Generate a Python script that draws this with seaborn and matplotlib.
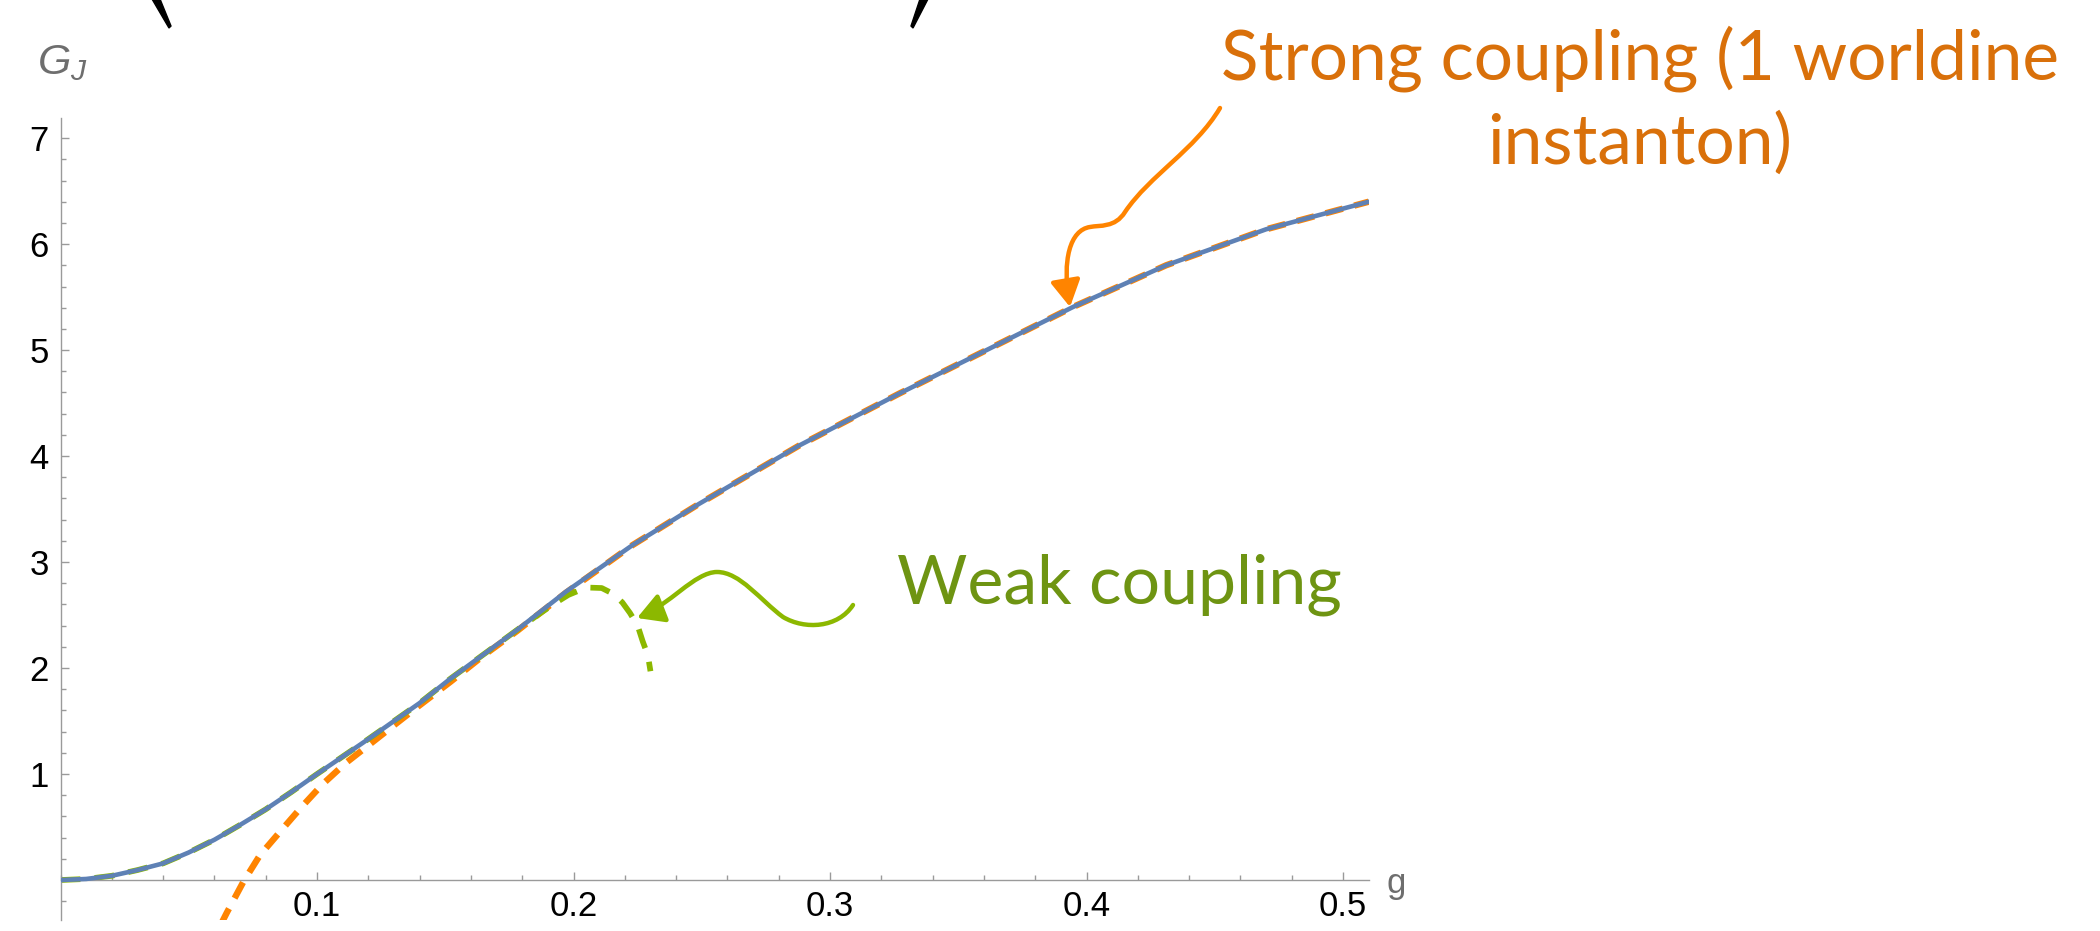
import matplotlib
matplotlib.use("Agg")
import matplotlib.pyplot as plt
import matplotlib.transforms as mtransforms
from matplotlib.path import Path
from matplotlib.patches import FancyArrowPatch, Polygon
from matplotlib.ticker import FixedLocator, MultipleLocator
import pandas as pd
import seaborn as sns

# exact G_J (blue, solid)
g_exact = [0, 0.01, 0.02, 0.03, 0.04, 0.05, 0.06, 0.07, 0.08, 0.09, 0.10, 0.12, 0.14,
           0.152, 0.165, 0.178, 0.197, 0.223, 0.249, 0.288, 0.327, 0.361, 0.395, 0.431, 0.470, 0.510]
G_exact = [0, 0.01, 0.04, 0.094, 0.157, 0.26, 0.38, 0.52, 0.667, 0.83, 1.0, 1.33, 1.67,
           1.90, 2.13, 2.36, 2.72, 3.16, 3.55, 4.10, 4.59, 5.0, 5.41, 5.80, 6.14, 6.40]

# strong coupling, one worldline instanton (orange, dashed)
g_strong = [0.0625, 0.0648, 0.0713, 0.0778, 0.0856, 0.094, 0.102, 0.111, 0.120, 0.130, 0.139,
            0.152, 0.165, 0.178, 0.197, 0.223, 0.249, 0.288, 0.327, 0.361, 0.395, 0.431, 0.470, 0.510]
G_strong = [-0.42, -0.31, -0.016, 0.236, 0.456, 0.69, 0.90, 1.10, 1.27, 1.46, 1.63,
            1.87, 2.12, 2.35, 2.71, 3.16, 3.55, 4.10, 4.59, 5.0, 5.41, 5.80, 6.14, 6.40]

# weak coupling expansion (green, dashed)
g_weak = [0, 0.01, 0.02, 0.03, 0.04, 0.05, 0.06, 0.07, 0.08, 0.09, 0.10, 0.12, 0.14, 0.152,
          0.165, 0.178, 0.186, 0.192, 0.198, 0.205, 0.211, 0.2155, 0.219, 0.222, 0.225, 0.227,
          0.229, 0.230]
G_weak = [0, 0.01, 0.04, 0.094, 0.157, 0.26, 0.38, 0.52, 0.667, 0.83, 1.0, 1.33, 1.67, 1.90,
          2.13, 2.36, 2.50, 2.60, 2.69, 2.76, 2.755, 2.70, 2.62, 2.52, 2.40, 2.25,
          2.12, 1.97]

x_ticks = [0.1, 0.2, 0.3, 0.4, 0.5]
x_labels = ["0.1", "0.2", "0.3", "0.4", "0.5"]
y_ticks = [1, 2, 3, 4, 5, 6, 7]
y_labels = ["1", "2", "3", "4", "5", "6", "7"]

BLUE = "#5E81B5"
ORANGE = "#FF8400"
GREEN = "#8CB800"
AXIS = "#9A9A9A"

sns.set_theme(style="ticks")
plt.rcParams["font.family"] = ["Liberation Sans", "DejaVu Sans"]
plt.rcParams["mathtext.fontset"] = "custom"
plt.rcParams["mathtext.it"] = "Liberation Sans:italic"
plt.rcParams["mathtext.rm"] = "Liberation Sans"

W, H = 2100, 931
fig = plt.figure(figsize=(W / 100, H / 100), dpi=100)
ax = fig.add_axes([60.5 / W, (H - 920.3) / H, 1308.2 / W, 802.3 / H])
# pixel coords, origin top-left, for the slide decorations
px = mtransforms.Affine2D().scale(1, -1).translate(0, H)

sns.lineplot(data=pd.DataFrame({"g": g_strong, "G": G_strong}), x="g", y="G",
             color=ORANGE, lw=4.6, ax=ax, estimator=None, sort=False, zorder=2)
ax.lines[-1].set_dashes([2.8, 1.85])
sns.lineplot(data=pd.DataFrame({"g": g_weak, "G": G_weak}), x="g", y="G",
             color=GREEN, lw=4.1, ax=ax, estimator=None, sort=False, zorder=2.5)
ax.lines[-1].set_dashes([3.5, 2.5])
sns.lineplot(data=pd.DataFrame({"g": g_exact, "G": G_exact}), x="g", y="G",
             color=BLUE, lw=3.3, ax=ax, estimator=None, sort=False, zorder=3)

ax.set_xlim(0, 0.51)
ax.set_ylim(-0.38, 7.19)
ax.set_xlabel("")
ax.set_ylabel("")
sns.despine(ax=ax)
ax.spines["bottom"].set_position(("data", 0))
for s in ["left", "bottom"]:
    ax.spines[s].set_color(AXIS)
    ax.spines[s].set_linewidth(1.0)

ax.xaxis.set_major_locator(FixedLocator(x_ticks))
ax.set_xticklabels(x_labels)
ax.xaxis.set_minor_locator(MultipleLocator(0.02))
ax.yaxis.set_major_locator(FixedLocator(y_ticks))
ax.set_yticklabels(y_labels)
ax.yaxis.set_minor_locator(MultipleLocator(0.2))
ax.tick_params(which="both", direction="in", color=AXIS, labelcolor="black",
               width=1.0, labelsize=25)
ax.tick_params(which="major", length=6)
ax.tick_params(which="minor", length=3.6)
ax.tick_params(axis="x", which="both", pad=7)
ax.tick_params(axis="y", which="both", pad=8.5)

# axis labels, Mathematica style
fig.text(37, 74, r"$G_J$", transform=px, fontsize=31, color="#6E6E6E", va="baseline")
fig.text(1387, 893, "g", transform=px, fontsize=25, color="#6E6E6E", va="baseline")

# bits of the big brackets cut off at the top of the slide
fig.add_artist(Polygon([(152, -1), (160, -1), (171, 26), (169, 28)], closed=True,
                       color="black", transform=px))
fig.add_artist(Polygon([(920, -1), (928, -1), (913, 28), (911, 26)], closed=True,
                       color="black", transform=px))

# annotations
txt_font = ["Lato", "DejaVu Sans"]
fig.text(1640, 80, "Strong coupling (1 worldine", transform=px, ha="center",
         va="baseline", fontsize=50, color="#D9700A", family=txt_font)
fig.text(1640, 164, "instanton)", transform=px, ha="center", va="baseline",
         fontsize=50, color="#D9700A", family=txt_font)
fig.text(897, 604, "Weak coupling", transform=px, ha="left", va="baseline",
         fontsize=49, color="#6E9412", family=txt_font)

C4 = Path.CURVE4
orange_path = Path([(1220, 108), (1195, 150), (1150, 175), (1125, 212),
                    (1115, 228), (1100, 225), (1090, 227),
                    (1070, 230), (1062, 260), (1070, 307)],
                   [Path.MOVETO, C4, C4, C4, C4, C4, C4, C4, C4, C4])
fig.add_artist(FancyArrowPatch(path=orange_path, transform=px, color=ORANGE, lw=3.2,
                               arrowstyle="-|>,head_length=0.8,head_width=0.45",
                               mutation_scale=20, shrinkA=0, shrinkB=0))

green_path = Path([(853, 605), (838, 628), (805, 630), (783, 617),
                   (760, 600), (740, 572), (717, 572),
                   (695, 572), (668, 606), (637, 618)],
                  [Path.MOVETO, C4, C4, C4, C4, C4, C4, C4, C4, C4])
fig.add_artist(FancyArrowPatch(path=green_path, transform=px, color=GREEN, lw=3.2,
                               arrowstyle="-|>,head_length=0.8,head_width=0.45",
                               mutation_scale=20, shrinkA=0, shrinkB=0))

fig.savefig("out.png", dpi=100)
